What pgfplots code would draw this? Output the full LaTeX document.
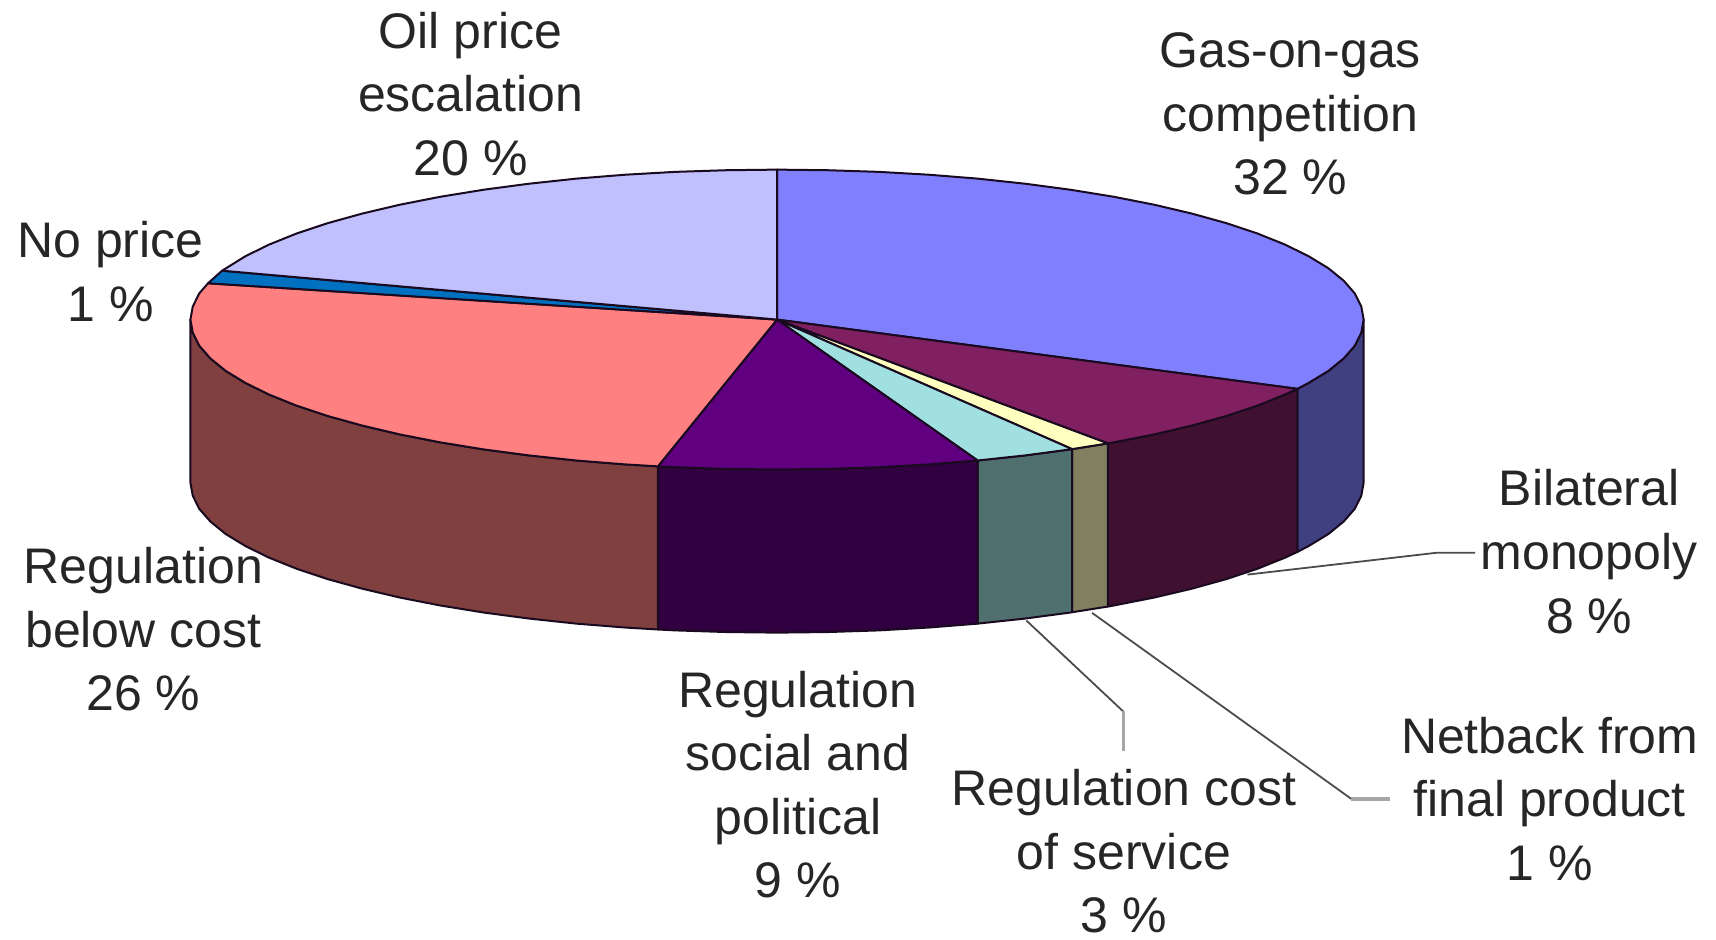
\documentclass[border=0pt]{standalone}
\usepackage{fontspec}
\setmainfont{Liberation Sans}
\usepackage{pgfplots}
\pgfplotsset{compat=1.18}
\definecolor{gasT}{HTML}{8080FF}\definecolor{gasS}{HTML}{404080}
\definecolor{bilT}{HTML}{802060}\definecolor{bilS}{HTML}{401030}
\definecolor{netT}{HTML}{FFFFC0}\definecolor{netS}{HTML}{808060}
\definecolor{cosT}{HTML}{A0E0E0}\definecolor{cosS}{HTML}{507070}
\definecolor{socT}{HTML}{600080}\definecolor{socS}{HTML}{300040}
\definecolor{belT}{HTML}{FF8080}\definecolor{belS}{HTML}{804040}
\definecolor{nopT}{HTML}{0070C0}
\definecolor{oilT}{HTML}{C0C0FF}
\definecolor{edge}{HTML}{1A0A20}
\begin{document}
\begin{tikzpicture}
\useasboundingbox (0pt,0pt) rectangle (858pt,469.5pt);
\begin{axis}[at={(0,0)},anchor=south west,scale only axis,width=858pt,height=469.5pt,
 xmin=-1.3246,xmax=1.6007,ymin=-4.1314,ymax=2.1314,hide axis,clip=false,
 every axis plot/.append style={line width=1pt,draw=edge,line join=round}]
% sides: rim at sin t, base at sin t - 1.088
\addplot[fill=gasS] coordinates {(.887,-.462)(.906,-.423)(.940,-.342)(.966,-.259)(.985,-.174)(.996,-.087)(1,0)
 (1,-1.088)(.996,-1.175)(.985,-1.262)(.966,-1.347)(.940,-1.430)(.906,-1.511)(.887,-1.550)} -- cycle;
\addplot[fill=bilS] coordinates {(.564,-.826)(.574,-.819)(.643,-.766)(.707,-.707)(.766,-.643)(.819,-.574)(.866,-.5)(.887,-.462)
 (.887,-1.550)(.866,-1.588)(.819,-1.662)(.766,-1.731)(.707,-1.795)(.643,-1.854)(.574,-1.907)(.564,-1.914)} -- cycle;
\addplot[fill=netS] coordinates {(.503,-.864)(.564,-.826)(.564,-1.914)(.503,-1.952)} -- cycle;
\addplot[fill=cosS] coordinates {(.342,-.940)(.423,-.906)(.5,-.866)(.503,-.864)(.503,-1.952)(.5,-1.954)(.423,-1.994)(.342,-2.028)} -- cycle;
\addplot[fill=socS] coordinates {(-.203,-.979)(-.174,-.985)(-.087,-.996)(0,-1)(.087,-.996)(.174,-.985)(.259,-.966)(.342,-.940)
 (.342,-2.028)(.259,-2.054)(.174,-2.073)(.087,-2.084)(0,-2.088)(-.087,-2.084)(-.174,-2.073)(-.203,-2.067)} -- cycle;
\addplot[fill=belS] coordinates {(-1,0)(-.996,-.087)(-.985,-.174)(-.966,-.259)(-.940,-.342)(-.906,-.423)(-.866,-.5)(-.819,-.574)(-.766,-.643)(-.707,-.707)(-.643,-.766)(-.574,-.819)(-.5,-.866)(-.423,-.906)(-.342,-.940)(-.259,-.966)(-.203,-.979)
 (-.203,-2.067)(-.259,-2.054)(-.342,-2.028)(-.423,-1.994)(-.5,-1.954)(-.574,-1.907)(-.643,-1.854)(-.707,-1.795)(-.766,-1.731)(-.819,-1.662)(-.866,-1.588)(-.906,-1.511)(-.940,-1.430)(-.966,-1.347)(-.985,-1.262)(-.996,-1.175)(-1,-1.088)} -- cycle;
% top face
\addplot[fill=gasT] coordinates {(0,0)(0,1)(.087,.996)(.174,.985)(.259,.966)(.342,.940)(.423,.906)(.5,.866)(.574,.819)(.643,.766)(.707,.707)(.766,.643)(.819,.574)(.866,.5)(.906,.423)(.940,.342)(.966,.259)(.985,.174)(.996,.087)(1,0)(.996,-.087)(.985,-.174)(.966,-.259)(.940,-.342)(.906,-.423)(.887,-.462)} -- cycle;
\addplot[fill=bilT] coordinates {(0,0)(.887,-.462)(.866,-.5)(.819,-.574)(.766,-.643)(.707,-.707)(.643,-.766)(.574,-.819)(.564,-.826)} -- cycle;
\addplot[fill=netT] coordinates {(0,0)(.564,-.826)(.503,-.864)} -- cycle;
\addplot[fill=cosT] coordinates {(0,0)(.503,-.864)(.5,-.866)(.423,-.906)(.342,-.940)} -- cycle;
\addplot[fill=socT] coordinates {(0,0)(.342,-.940)(.259,-.966)(.174,-.985)(.087,-.996)(0,-1)(-.087,-.996)(-.174,-.985)(-.203,-.979)} -- cycle;
\addplot[fill=belT] coordinates {(0,0)(-.203,-.979)(-.259,-.966)(-.342,-.940)(-.423,-.906)(-.5,-.866)(-.574,-.819)(-.643,-.766)(-.707,-.707)(-.766,-.643)(-.819,-.574)(-.866,-.5)(-.906,-.423)(-.940,-.342)(-.966,-.259)(-.985,-.174)(-.996,-.087)(-1,0)(-.996,.087)(-.985,.174)(-.970,.242)} -- cycle;
\addplot[fill=nopT] coordinates {(0,0)(-.970,.242)(-.946,.326)} -- cycle;
\addplot[fill=oilT] coordinates {(0,0)(-.946,.326)(-.906,.423)(-.866,.5)(-.819,.574)(-.766,.643)(-.707,.707)(-.643,.766)(-.574,.819)(-.5,.866)(-.423,.906)(-.342,.940)(-.259,.966)(-.174,.985)(-.087,.996)(0,1)} -- cycle;
% leader lines
\addplot[line width=0.9pt,draw=black!70] coordinates {(.802,-1.701)(1.125,-1.555)(1.190,-1.555)};
\addplot[line width=0.9pt,draw=black!70] coordinates {(.425,-2.007)(.590,-2.613)};
\addplot[line width=1.6pt,draw=black!35] coordinates {(.590,-2.613)(.590,-2.876)};
\addplot[line width=0.9pt,draw=black!70] coordinates {(.537,-1.956)(.979,-3.197)};
\addplot[line width=1.6pt,draw=black!35] coordinates {(.979,-3.197)(1.045,-3.197)};
\end{axis}
\begin{scope}[x=0.5472pt,y=-0.5472pt,shift={(0pt,469.5pt)},
  every node/.style={align=center,text=black!85,font=\fontsize{25}{31.8}\selectfont,inner sep=0pt}]
\node at (430,86) {Oil price\\escalation\\20 \%};
\node at (1179,104) {Gas-on-gas\\competition\\32 \%};
\node at (101,248) {No price\\1 \%};
\node at (1452,504) {Bilateral\\monopoly\\8 \%};
\node at (1416,730) {Netback from\\final product\\1 \%};
\node at (1027,778) {Regulation cost\\of service\\3 \%};
\node at (729,717) {Regulation\\social and\\political\\9 \%};
\node at (131,575) {Regulation\\below cost\\26 \%};
\end{scope}
\end{tikzpicture}
\end{document}
